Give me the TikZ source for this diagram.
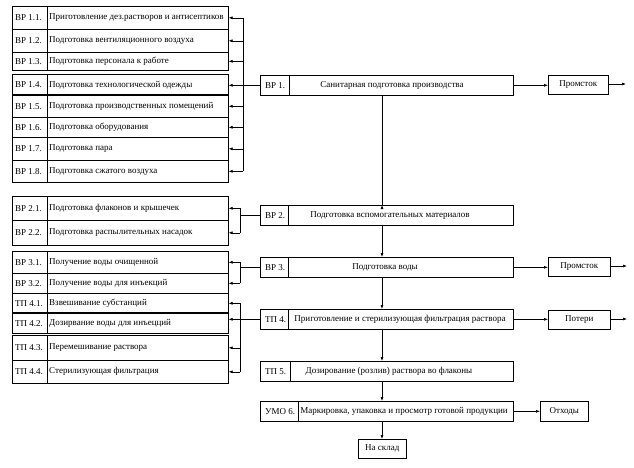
\documentclass[tikz,border=0pt]{standalone}
\usepackage{fontspec}
\setmainfont{Liberation Serif}
\usetikzlibrary{arrows.meta}
\tikzset{
 ln/.style={line width=0.6pt},
 rowbox/.style={draw, ln, minimum width=216pt, anchor=north west, inner sep=0pt},
 mainbox/.style={draw, ln, minimum width=253pt, minimum height=20pt, anchor=north west, inner sep=0pt},
 outbox/.style={draw, ln, minimum height=19pt, inner sep=0pt, anchor=north west, font=\fontsize{9}{10}\selectfont},
 lbl/.style={anchor=west, inner sep=0pt, font=\fontsize{9}{10}\selectfont},
 ctr/.style={anchor=center, inner sep=0pt, font=\fontsize{9}{10}\selectfont},
 arr/.style={-{Latex[length=4pt,width=3pt]}, ln},
}
\newcommand\prow[5]{%
 \node[rowbox, minimum height=#3pt] (#1) at (12,#2) {};
 \draw[ln] ([xshift=35pt]#1.north west) -- ([xshift=35pt]#1.south west);
 \node[lbl] at ([xshift=3pt]#1.west) {#4};
 \node[lbl] at ([xshift=37pt]#1.west) {#5};
}
\newcommand\mainrow[6]{%
 \node[mainbox] (#1) at (260,#2) {};
 \draw[ln] ([xshift=#3pt]#1.north west) -- ([xshift=#3pt]#1.south west);
 \node[lbl] at ([xshift=5pt]#1.west) {#4};
 \node[ctr] at ([xshift=#6pt]#1.west) {#5};
}
\begin{document}
\begin{tikzpicture}[x=1pt,y=-1pt]
\useasboundingbox[fill=white] (0,0) rectangle (634,467);
% left rows
\prow{r11}{6}{23}{ВР 1.1.}{Приготовление дез.растворов и антисептиков}
\prow{r12}{29}{23}{ВР 1.2.}{Подготовка вентиляционного воздуха}
\prow{r13}{52}{18}{ВР 1.3.}{Подготовка персонала к работе}
\prow{r14}{74}{21}{ВР 1.4.}{Подготовка технологической одежды}
\prow{r15}{95}{22}{ВР 1.5.}{Подготовка производственных помещений}
\prow{r16}{117}{20}{ВР 1.6.}{Подготовка оборудования}
\prow{r17}{137}{23}{ВР 1.7.}{Подготовка пара}
\prow{r18}{160}{22}{ВР 1.8.}{Подготовка сжатого воздуха}
\prow{r21}{196}{24}{ВР 2.1.}{Подготовка флаконов и крышечек}
\prow{r22}{220}{25}{ВР 2.2.}{Подготовка распылительных насадок}
\prow{r31}{251}{22}{ВР 3.1.}{Получение воды очищенной}
\prow{r32}{273}{20}{ВР 3.2.}{Получение воды для инъекций}
\prow{r41}{293}{20}{ТП 4.1.}{Взвешивание субстанций}
\prow{r42}{313}{20}{ТП 4.2.}{Дозирвание воды для инъецций}
\prow{r43}{335}{25}{ТП 4.3.}{Перемешивание раствора}
\prow{r44}{360}{23}{ТП 4.4.}{Стерилизующая фильтрация}
\draw[line width=1.3pt] (r15.north west) -- (r15.north east);
\draw[line width=1.3pt] (r42.north west) -- (r42.north east);
% main column
\mainrow{bp1}{75}{29}{ВР 1.}{Санитарная подготовка производства}{132}
\mainrow{bp2}{205}{28}{ВР 2.}{Подготовка вспомогательных материалов}{130}
\mainrow{bp3}{257}{28}{ВР 3.}{Подготовка воды}{125}
\mainrow{tp4}{309}{28}{ТП 4.}{Приготовление и стерилизующая фильтрация раствора}{140}
\mainrow{tp5}{361}{30}{ТП 5.}{Дозирование (розлив) раствора во флаконы}{129}
\mainrow{umo}{401}{38}{УМО 6.}{Маркировка, упаковка и просмотр готовой продукции}{144}
% outputs
\node[outbox, minimum width=60pt] (prom1) at (548,75) {Промсток};
\node[outbox, minimum width=62pt] (prom3) at (548,257) {Промсток};
\node[outbox, minimum width=62pt] (poteri) at (548,310) {Потери};
\node[outbox, minimum width=48pt, minimum height=20pt] (othody) at (540,401) {Отходы};
\node[outbox, minimum width=48pt] (sklad) at (358,439) {На склад};
% right-side arrows
\draw[arr] (bp1.east) -- (bp1.east -| prom1.west);
\draw[arr] (bp3.east) -- (bp3.east -| prom3.west);
\draw[arr] (tp4.east) -- (tp4.east -| poteri.west);
\draw[arr] (umo.east) -- (umo.east -| othody.west);
\coordinate (o1) at (626,84);
\coordinate (o3) at (627,266);
\coordinate (o4) at (627,319);
\draw[arr] (prom1.east |- o1) -- (o1);
\draw[arr] (prom3.east |- o3) -- (o3);
\draw[arr] (poteri.east |- o4) -- (o4);
% trunk
\coordinate (tr) at (382,0);
\draw[ln] (bp1.south -| tr) -- (bp2.north -| tr);
\draw[arr] ([yshift=-2pt]bp2.north -| tr) -- (bp2.north -| tr);
\draw[arr] (bp2.south -| tr) -- (bp3.north -| tr);
\draw[arr] (bp3.south -| tr) -- (tp4.north -| tr);
\draw[arr] (tp4.south -| tr) -- (tp5.north -| tr);
\draw[arr] (tp5.south -| tr) -- (umo.north -| tr);
\draw[arr] (umo.south -| tr) -- (sklad.north -| tr);
% left brackets
\coordinate (b1) at (243,0);
\coordinate (b2) at (240,0);
\draw[ln] (b1 |- r11.east) -- (b1 |- r18.east);
\draw[arr] (bp1.west) -- (bp1.west -| r14.east);
\foreach \r in {r11,r12,r13,r15,r16,r17,r18}
  \draw[arr] (b1 |- \r.east) -- (\r.east);
\draw[ln] (b2 |- r21.east) -- (b2 |- r22.east);
\draw[ln] (bp2.west) -- (bp2.west -| b2);
\foreach \r in {r21,r22}
  \draw[arr] (b2 |- \r.east) -- (\r.east);
\draw[ln] (b2 |- r31.east) -- (b2 |- r32.east);
\draw[ln] (bp3.west) -- (bp3.west -| b2);
\foreach \r in {r31,r32}
  \draw[arr] (b2 |- \r.east) -- (\r.east);
\draw[ln] (b2 |- r41.east) -- (b2 |- r44.east);
\draw[arr] (tp4.west) -- (tp4.west -| r42.east);
\foreach \r in {r41,r43,r44}
  \draw[arr] (b2 |- \r.east) -- (\r.east);
\end{tikzpicture}
\end{document}
